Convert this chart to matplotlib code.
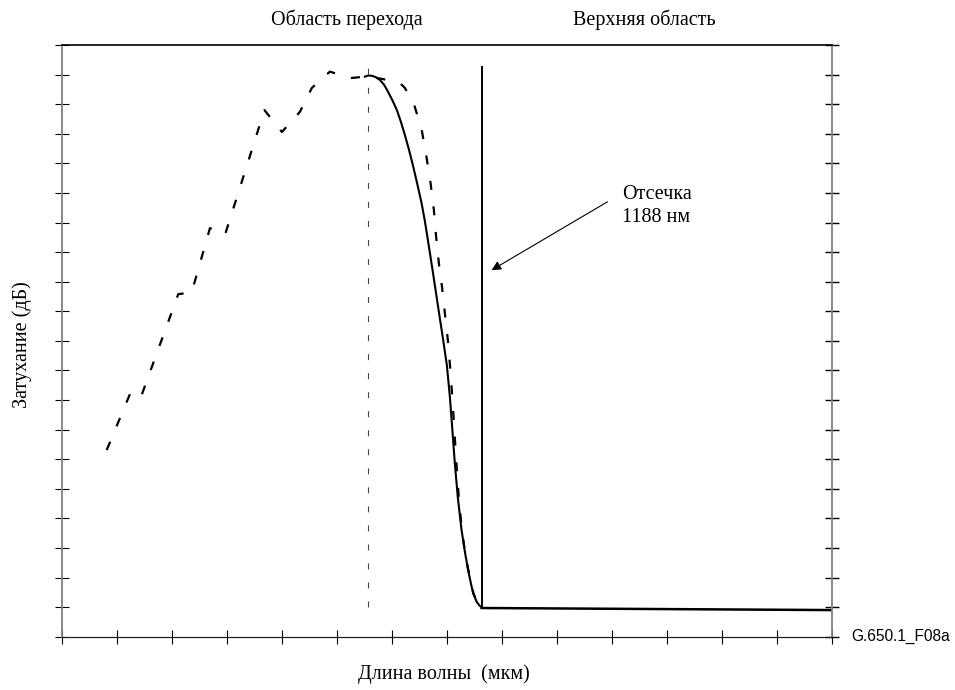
"""
Cutoff wavelength chart (G.650.1 Fig. 8a), attenuation vs wavelength
"""
import matplotlib
matplotlib.use("Agg")
import matplotlib.pyplot as plt

plt.rcParams["lines.scale_dashes"] = False

SERIF = "Liberation Serif"
SANS = "Liberation Sans"

# axis units: x 0..14 ticks, y 0..20 ticks (no numbers in original)
n_xticks = 14
n_yticks = 20

# dashed curve (measured with bend)
dash_x = [0.813, 1.267, 1.449, 2.115, 2.358, 2.691, 2.964, 3.682, 4.0, 4.327,
          4.545, 4.873, 5.236, 5.564, 6.127, 6.236, 6.4, 6.54, 6.624, 6.704,
          6.764, 6.805, 6.855, 6.915, 6.964, 7.018, 7.064, 7.1, 7.133, 7.164,
          7.215, 7.273, 7.335, 7.391, 7.482, 7.545, 7.6]
dash_y = [6.31, 8.34, 8.17, 11.58, 11.63, 13.81, 13.58, 17.80, 17.06, 17.74,
          18.55, 19.10, 18.88, 18.94, 18.75, 18.55, 18.01, 17.16, 16.28, 15.33,
          14.42, 13.52, 12.62, 11.78, 10.93, 10.03, 9.01, 8.07, 7.12, 6.14,
          4.75, 3.61, 2.80, 2.25, 1.48, 1.17, 1.01]

# solid curve (fitted)
solid_x = [5.509, 5.57, 5.631, 5.70, 5.782, 5.860, 5.933, 6.010, 6.091, 6.165,
           6.236, 6.310, 6.382, 6.460, 6.54, 6.600, 6.655, 6.745, 6.836, 6.933,
           7.0, 7.055, 7.100, 7.145, 7.200, 7.267, 7.330, 7.387, 7.440, 7.478,
           7.545, 7.600, 7.631]
solid_y = [18.93, 18.97, 18.96, 18.92, 18.82, 18.65, 18.41, 18.13, 17.80, 17.40,
           16.96, 16.47, 15.94, 15.32, 14.66, 14.05, 13.41, 12.33, 11.21, 10.03,
           9.18, 8.11, 7.00, 5.86, 4.70, 3.61, 2.85, 2.25, 1.78, 1.47,
           1.17, 1.04, 1.01]

# flat part after cutoff
flat_x = [7.631, 14.0]
flat_y = [0.97, 0.90]

cutoff_x = 7.631
cutoff_y = [1.0, 19.27]
transition_x = 5.564
transition_y = [1.0, 19.3]

arrow_tip = (7.813, 12.39)
arrow_tail = (9.922, 14.70)

W, H = 955, 690
fig = plt.figure(figsize=(W / 100, H / 100), dpi=100)
left, right, top, bottom = 62, 831.7, 45, 636.7
ax = fig.add_axes([left / W, 1 - bottom / H, (right - left) / W, (bottom - top) / H])
ax.set_xlim(0, n_xticks)
ax.set_ylim(0, n_yticks)

ax.set_xticks(range(0, n_xticks + 1))
ax.set_yticks(range(0, n_yticks + 1))
ax.set_xticklabels([])
ax.set_yticklabels([])
ax.tick_params(axis="both", direction="inout", length=10, width=0.8, color="black")
ax.tick_params(axis="y", left=True, right=True)
ax.tick_params(axis="x", bottom=True, top=False)
for t in ax.yaxis.get_major_ticks():
    t.tick2line.set_color("#808080")
    t.tick2line.set_markeredgewidth(1.0)
ax.yaxis.get_major_ticks()[-1].tick2line.set_color("black")

for side in ["left", "right"]:
    ax.spines[side].set_color("#808080")
    ax.spines[side].set_linewidth(1.3)
ax.spines["bottom"].set_color("#222222")
ax.spines["bottom"].set_linewidth(0.9)
ax.spines["top"].set_color("black")
ax.spines["top"].set_linewidth(1.2)

ax.plot(dash_x, dash_y, color="black", lw=1.6, dashes=(6.5, 12.0))
ax.plot(solid_x, solid_y, color="black", lw=1.5)
ax.plot(flat_x, flat_y, color="black", lw=1.8)
ax.plot([cutoff_x, cutoff_x], cutoff_y, color="black", lw=1.4)
ax.plot([transition_x, transition_x], transition_y, color="#444444", lw=0.8,
        dashes=(4.3, 9.4))

ax.annotate("", xy=arrow_tip, xytext=arrow_tail,
            arrowprops=dict(arrowstyle="-|>", lw=0.8, color="black",
                            mutation_scale=14, shrinkA=0, shrinkB=0))

fs = 14.5
fig.text(621.7 / W, 1 - 185 / H, "Отсечка\n1188 нм", family=SERIF, fontsize=fs,
         ha="left", va="top", linespacing=1.25)
fig.text(346.7 / W, 1 - 20 / H, "Область перехода", family=SERIF, fontsize=fs,
         ha="center", va="center")
fig.text(644 / W, 1 - 20 / H, "Верхняя область", family=SERIF, fontsize=fs,
         ha="center", va="center")
fig.text(444 / W, 1 - 674 / H, "Длина волны  (мкм)", family=SERIF, fontsize=fs,
         ha="center", va="center")
fig.text(22 / W, 1 - 345 / H, "Затухание (дБ)", family=SERIF, fontsize=fs,
         ha="center", va="center", rotation=90)
fig.text(851.7 / W, 1 - 636.7 / H, "G.650.1_F08a", family=SANS, fontsize=11.2,
         ha="left", va="center")

fig.savefig("out.png", dpi=100)
